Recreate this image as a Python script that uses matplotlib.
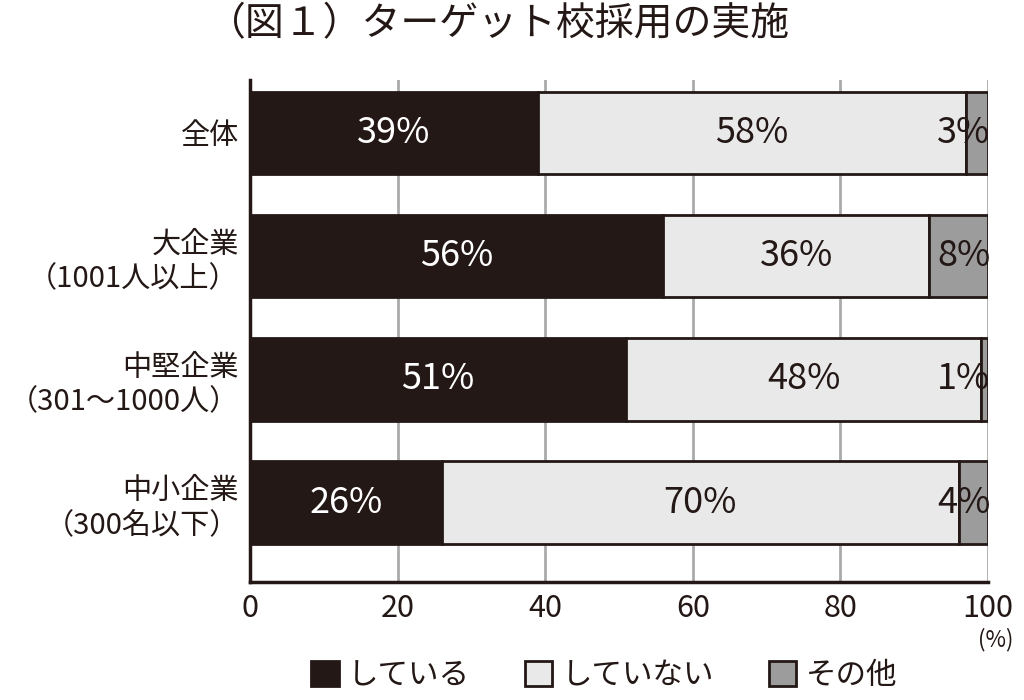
import numpy as np
import matplotlib.pyplot as plt

plt.rcParams['font.family'] = ['Noto Sans CJK JP', 'DejaVu Sans']

# Data
categories = ["全体", "大企業\n（1001人以上）", "中堅企業\n（301～1000人）", "中小企業\n（300名以下）"]
series_names = ["している", "していない", "その他"]
doing = [39, 56, 51, 26]
not_doing = [58, 36, 48, 70]
other = [3, 8, 1, 4]
x_ticks = [0, 20, 40, 60, 80, 100]

dark = "#231815"
colors = [dark, "#e9e9e9", "#9c9c9c"]
text_colors = ["white", dark, dark]

fig = plt.figure(figsize=(10.24, 7), dpi=100)
ax = fig.add_axes([0.244, 0.169, 0.721, 0.717])

y = np.arange(len(categories))
left = np.zeros(len(categories))
for i, vals in enumerate([doing, not_doing, other]):
    vals = np.array(vals, dtype=float)
    ax.barh(y, vals, left=left, height=0.67, color=colors[i],
            edgecolor=dark, linewidth=2, label=series_names[i], zorder=3)
    for j, v in enumerate(vals):
        if i == 2:
            ax.text(100.3, y[j], f"{int(v)}%", ha="right", va="center",
                    fontsize=26, color=text_colors[i], zorder=4)
        else:
            ax.text(left[j] + v / 2, y[j], f"{int(v)}%", ha="center",
                    va="center", fontsize=26, color=text_colors[i], zorder=4)
    left += vals

ax.set_xlim(0, 100)
ax.set_ylim(3.64, -0.43)
ax.set_yticks(y)
ax.set_yticklabels(categories, fontsize=21, color=dark, linespacing=1.2)
ax.set_xticks(x_ticks)
ax.set_xticklabels([str(t) for t in x_ticks], fontsize=22, color=dark)
ax.tick_params(axis="y", length=0, pad=8)
ax.tick_params(axis="x", length=0, pad=8)

for xt in x_ticks[1:]:
    ax.axvline(xt, color="#aaaaaa", linewidth=2, zorder=1)

ax.spines["top"].set_visible(False)
ax.spines["right"].set_visible(False)
ax.spines["left"].set_color(dark)
ax.spines["bottom"].set_color(dark)
ax.spines["left"].set_linewidth(2.5)
ax.spines["bottom"].set_linewidth(2.5)
ax.spines["left"].set_zorder(5)
ax.spines["bottom"].set_zorder(5)

fig.text(0.487, 0.965, "（図１）ターゲット校採用の実施", ha="center", va="center",
         fontsize=28, color=dark)
fig.text(0.99, 0.087, "(%)", ha="right", va="center", fontsize=16, color=dark)

fig.legend(loc="center", bbox_to_anchor=(0.59, 0.035), ncol=3, frameon=False,
           fontsize=22, handlelength=0.9, handleheight=0.9, handletextpad=0.3,
           columnspacing=1.8, labelcolor=dark)

fig.savefig("out.png", dpi=100)
